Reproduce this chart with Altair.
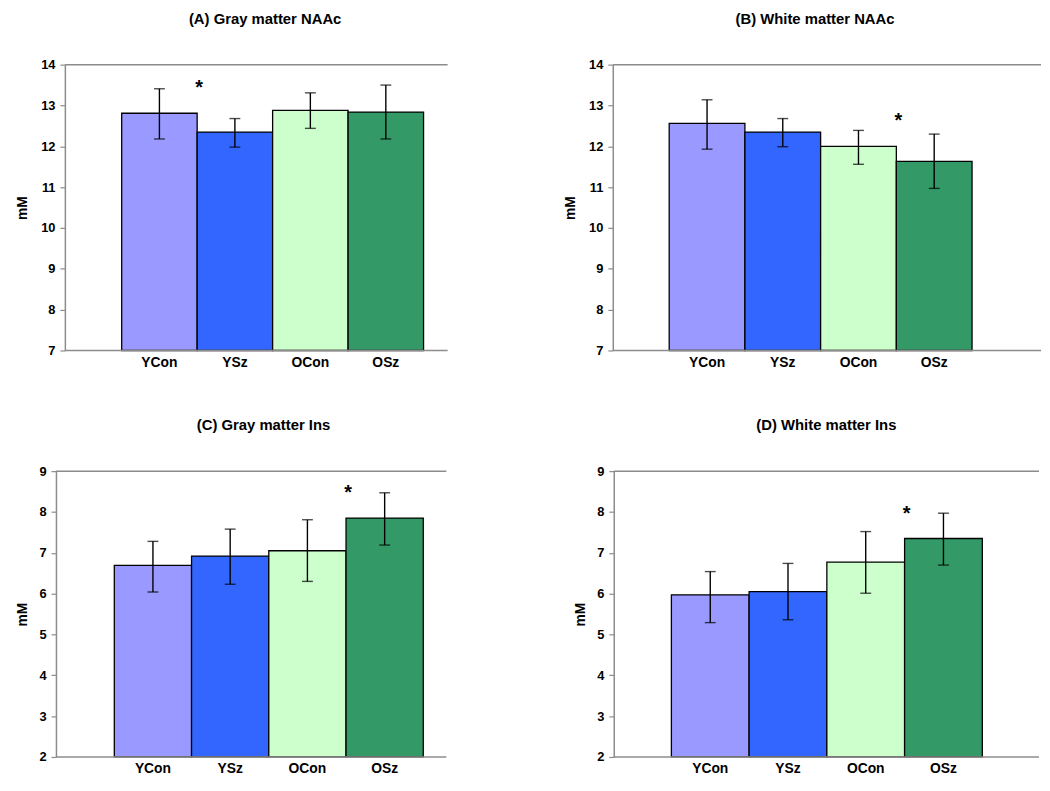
import altair as alt
import pandas as pd

FONT = "Liberation Sans"

groups = ["YCon", "YSz", "OCon", "OSz"]
colors = ["#9999FF", "#3366FF", "#CCFFCC", "#339966"]

titles = ["(A) Gray matter NAAc", "(B) White matter NAAc",
          "(C) Gray matter Ins", "(D) White matter Ins"]

# Panel A: Gray matter NAAc
mean_A = [12.81, 12.35, 12.88, 12.84]
hi_A = [13.41, 12.68, 13.31, 13.50]
lo_A = [12.18, 11.98, 12.44, 12.18]

# Panel B: White matter NAAc
mean_B = [12.56, 12.35, 12.00, 11.63]
hi_B = [13.14, 12.68, 12.39, 12.30]
lo_B = [11.93, 11.99, 11.56, 10.97]

# Panel C: Gray matter Ins
mean_C = [6.69, 6.92, 7.05, 7.85]
hi_C = [7.28, 7.58, 7.81, 8.47]
lo_C = [6.04, 6.23, 6.30, 7.19]

# Panel D: White matter Ins
mean_D = [5.97, 6.05, 6.77, 7.35]
hi_D = [6.54, 6.74, 7.52, 7.97]
lo_D = [5.29, 5.36, 6.01, 6.70]

# significance markers (*) : group whose band start it sits at, and height
star_group = ["YSz", "OSz", "OSz", "OSz"]
star_value = [13.28, 12.48, 8.32, 7.80]

y_domain_top = [7, 14]
y_domain_bottom = [2, 9]
y_ticks_top = [7, 8, 9, 10, 11, 12, 13, 14]
y_ticks_bottom = [2, 3, 4, 5, 6, 7, 8, 9]

GRAY = "#8c8c8c"


def panel(title, means, hi, lo, ydom, yticks, width, po, align, tdx, toff,
          sgroup, svalue, sdx, extent, yoff):
    df = pd.DataFrame({"group": groups, "mean": means, "hi": hi, "lo": lo})
    xenc = alt.X(
        "group:N", sort=groups,
        scale=alt.Scale(domain=groups, paddingInner=0, paddingOuter=po, align=align),
        axis=alt.Axis(title=None, labelAngle=0, ticks=False, domain=False,
                      labelFont=FONT, labelFontSize=14,
                      labelFontWeight="bold", labelColor="black", labelPadding=5),
    )
    yscale = alt.Scale(domain=ydom, nice=False, zero=False)
    yaxis = alt.Axis(title="mM", values=yticks, grid=False, domainColor=GRAY,
                     domainWidth=1.5, tickColor=GRAY, tickWidth=1.2, tickSize=5,
                     labelFont=FONT, labelFontSize=13, labelFontWeight="bold",
                     labelColor="black", labelPadding=5, titleFont=FONT,
                     titleFontSize=14, titleFontWeight="bold", titleColor="black",
                     titlePadding=9, minExtent=extent, maxExtent=extent,
                     offset=yoff)
    base = alt.Chart(df)
    bars = base.mark_bar(stroke="black", strokeWidth=1.3).encode(
        x=xenc,
        y=alt.Y("mean:Q", scale=yscale, axis=yaxis),
        y2=alt.datum(ydom[0]),
        color=alt.Color("group:N", scale=alt.Scale(domain=groups, range=colors),
                        legend=None),
    )
    frame = alt.Chart(pd.DataFrame({"v": ydom})).mark_rule(
        color=GRAY, strokeWidth=1.5
    ).encode(y=alt.Y("v:Q"), x=alt.value(-yoff), x2=alt.value(width))
    err = base.mark_rule(color="black", strokeWidth=1.4).encode(
        x=alt.X("group:N", sort=groups), y="hi:Q", y2="lo:Q")
    cap_hi = base.mark_tick(color="black", size=11, thickness=1.4).encode(
        x=alt.X("group:N", sort=groups), y="hi:Q")
    cap_lo = base.mark_tick(color="black", size=11, thickness=1.4).encode(
        x=alt.X("group:N", sort=groups), y="lo:Q")
    star = alt.Chart(pd.DataFrame({"group": [sgroup], "s": [svalue]})).mark_text(
        text="*", font=FONT, fontSize=20, fontWeight="bold", color="black",
        baseline="alphabetic", align="center", dx=sdx
    ).encode(x=alt.X("group:N", sort=groups, bandPosition=0), y="s:Q")
    return alt.layer(bars, frame, err, cap_hi, cap_lo, star).properties(
        width=width, height=289,
        title=alt.TitleParams(title, font=FONT, fontSize=15, fontWeight="bold",
                              color="black", anchor="middle", dx=tdx,
                              offset=toff, baseline="bottom"),
    )


pA = panel(titles[0], mean_A, hi_A, lo_A, y_domain_top, y_ticks_top,
           387, 0.5357, 0.7026, 9, 16.7, star_group[0], star_value[0], 2, 27, 0)
pB = panel(titles[1], mean_B, hi_B, lo_B, y_domain_top, y_ticks_top,
           433, 0.828, 0.45, -12, 16.7, star_group[1], star_value[1], 2, 27, 0)
pC = panel(titles[2], mean_C, hi_C, lo_C, y_domain_bottom, y_ticks_bottom,
           385.7, 0.4693, 0.682, 8, 17.7, star_group[2], star_value[2], 2, 18, 9)
pD = panel(titles[3], mean_D, hi_D, lo_D, y_domain_bottom, y_ticks_bottom,
           430, 0.7354, 0.504, 0, 17.7, star_group[3], star_value[3], 2, 18, 0)

row1 = alt.hconcat(pA, pB, spacing=116)
row2 = alt.hconcat(pC, pD, spacing=127)

chart = alt.vconcat(row1, row2, spacing=49).properties(
    padding={"left": 7.5, "top": 0, "right": 0, "bottom": 0}
).configure_view(stroke=None)

chart.save("out.html", embed_options={"renderer": "svg", "actions": False})
